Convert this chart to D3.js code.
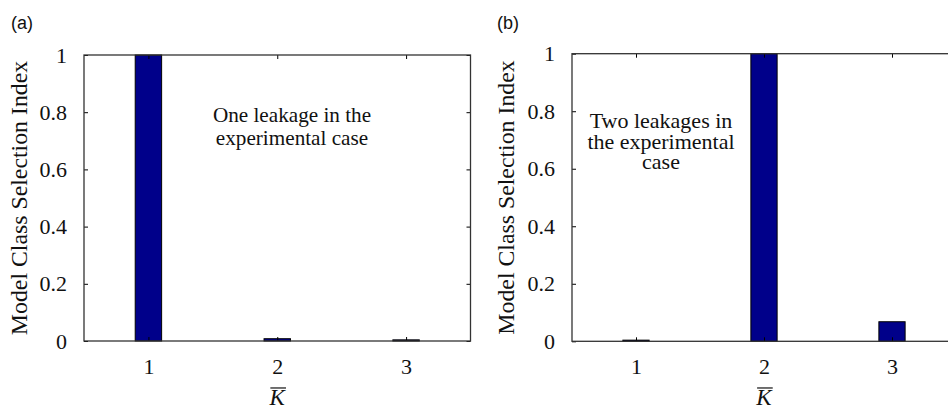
<!DOCTYPE html>
<html><head><meta charset="utf-8">
<script src="https://cdn.jsdelivr.net/npm/d3@7"></script>
<style>body{margin:0;background:#fff}svg{display:block}</style>
</head><body>
<script>
const categories = [1, 2, 3];
const valuesA = [1.0, 0.008, 0.004];
const valuesB = [0.004, 1.0, 0.068];
const yTicks = [0, 0.2, 0.4, 0.6, 0.8, 1];
const yTickLabels = ["0", "0.2", "0.4", "0.6", "0.8", "1"];
const panelLabels = ["(a)", "(b)"];
const notesA = ["One leakage in the", "experimental case"];
const notesB = ["Two leakages in", "the experimental", "case"];
const yTitle = "Model Class Selection Index";
const xTitle = "K";

const W = 948, H = 410;
const SERIF = '"Liberation Serif"';
const SANS = '"Liberation Sans"';
const svg = d3.select("body").append("svg").attr("width", W).attr("height", H);

const panels = [
  {label: panelLabels[0], labelX: 11, values: valuesA, notes: notesA, noteX: 292, noteY: 122, noteDy: 23, noteSize: 21.2,
   x0: 84, x1: 470.5, y0: 55, y1: 341, titleX: 27},
  {label: panelLabels[1], labelX: 497, values: valuesB, notes: notesB, noteX: 661, noteY: 128, noteDy: 20.5, noteSize: 22,
   x0: 572, x1: 956, y0: 53.7, y1: 341.3, titleX: 514}
];

function serifText(sel, size) {
  return sel.style("font-family", SERIF).style("font-size", size + "px").attr("fill", "#111");
}

panels.forEach(p => {
  const g = svg.append("g");
  const x = d3.scaleLinear().domain([0.5, 3.5]).range([p.x0, p.x1]);
  const y = d3.scaleLinear().domain([0, 1]).range([p.y1, p.y0]);
  const bw = (x(1.205) - x(1));

  g.selectAll("rect.bar").data(categories).join("rect").attr("class", "bar")
    .attr("x", d => x(d) - bw / 2)
    .attr("width", bw)
    .attr("y", (d, i) => y(p.values[i]))
    .attr("height", (d, i) => y(0) - y(p.values[i]))
    .attr("fill", "#00008a").attr("stroke", "#000").attr("stroke-width", 1);

  const tk = 4;
  const bottom = g.append("g").attr("transform", `translate(0,${p.y1})`)
    .call(d3.axisBottom(x).tickValues(categories).tickFormat(d3.format("d")).tickSizeInner(-tk).tickSizeOuter(0).tickPadding(17));
  const top = g.append("g").attr("transform", `translate(0,${p.y0})`)
    .call(d3.axisTop(x).tickValues(categories).tickFormat("").tickSizeInner(-tk).tickSizeOuter(0));
  const left = g.append("g").attr("transform", `translate(${p.x0},0)`)
    .call(d3.axisLeft(y).tickValues(yTicks).tickFormat((d, i) => yTickLabels[i]).tickSizeInner(-tk).tickSizeOuter(0).tickPadding(17));
  const right = g.append("g").attr("transform", `translate(${p.x1},0)`)
    .call(d3.axisRight(y).tickValues(yTicks).tickFormat("").tickSizeInner(-tk).tickSizeOuter(0));

  [bottom, top, left, right].forEach(a => {
    a.attr("font-family", null).attr("font-size", null);
    a.select(".domain").remove();
    a.selectAll("line").attr("stroke", "#000").attr("stroke-width", 1);
    serifText(a.selectAll("text"), 22);
  });

  g.append("rect").attr("x", p.x0).attr("y", p.y0)
    .attr("width", p.x1 - p.x0).attr("height", p.y1 - p.y0)
    .attr("fill", "none").attr("stroke", "#333").attr("stroke-width", 1.3);

  serifText(g.append("text"), 23.8)
    .attr("transform", `translate(${p.titleX},${(p.y0 + p.y1) / 2}) rotate(-90)`)
    .attr("text-anchor", "middle")
    .text(yTitle);

  const kSize = 23, kBase = 405;
  serifText(g.append("text"), kSize).attr("x", x(2)).attr("y", kBase)
    .attr("text-anchor", "middle").style("font-style", "italic").text(xTitle);
  g.append("line")
    .attr("x1", x(2) - kSize * 0.3).attr("x2", x(2) + kSize * 0.38)
    .attr("y1", kBase - kSize * 0.74).attr("y2", kBase - kSize * 0.74)
    .attr("stroke", "#111").attr("stroke-width", 1.2);

  serifText(g.selectAll("text.note").data(p.notes).join("text").attr("class", "note"), p.noteSize)
    .attr("x", p.noteX).attr("y", (d, i) => p.noteY + i * p.noteDy)
    .attr("text-anchor", "middle")
    .text(d => d);

  svg.append("text").attr("x", p.labelX).attr("y", 29)
    .style("font-family", SANS).style("font-size", "18px").attr("fill", "#111").text(p.label);
});
</script>
</body></html>
